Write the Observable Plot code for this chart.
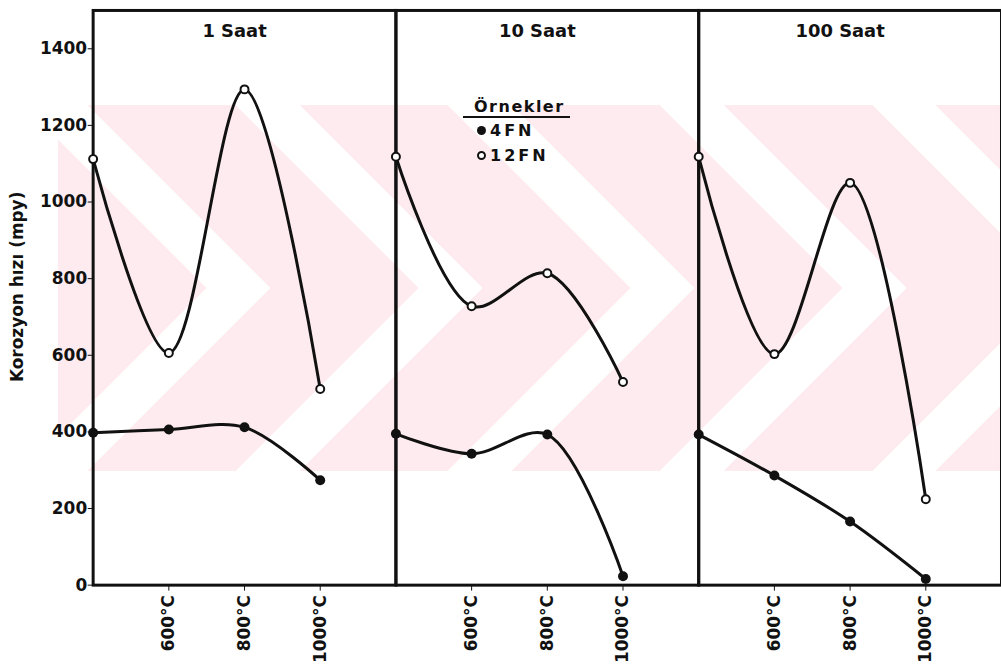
<!DOCTYPE html>
<html>
<head>
<meta charset="utf-8">
<script src="https://cdn.jsdelivr.net/npm/d3@7"></script>
<script src="https://cdn.jsdelivr.net/npm/@observablehq/plot@0.6"></script>
<style>
  html, body { margin: 0; padding: 0; background: #fff; overflow: hidden; }
  #wrap { position: relative; width: 1001px; height: 664px; overflow: hidden; }
  .wm { position: absolute; left: 58px; width: 943px; height: 183px; z-index: 0;
    background: repeating-linear-gradient(45deg, #fdebef 0 105px, #fff 105px 150px); }
  #wmTop { top: 105px; }
  #wmBot { top: 288px; transform: scaleY(-1); }
  #chart { position: absolute; left: 0; top: 0; z-index: 1; }
  #chart svg g[aria-label="y-axis tick label"] text { font-size: 17px !important; font-weight: bold; }
  #chart svg g[aria-label="x-axis tick label"] text { font-size: 17px !important; font-weight: bold; }
  #legend { position: absolute; left: 463px; top: 97px; z-index: 2; font-family: "DejaVu Sans", sans-serif;
    font-weight: bold; font-size: 16px; color: #111; line-height: 25px; }
  #legend .ttl { border-bottom: 2.5px solid #111; padding: 0 5px 0 11px; line-height: 19px; letter-spacing: 1.5px; }
  #legend .row { padding-left: 14px; letter-spacing: 3px; }
  .dot { display: inline-block; width: 9px; height: 9px; border-radius: 50%; margin-right: 4px; vertical-align: 1px; box-sizing: border-box; }
  .f { background: #111; }
  .o { border: 2px solid #111; background: #fff; }
</style>
</head>
<body>
<div id="wrap">
  <div class="wm" id="wmTop"></div>
  <div class="wm" id="wmBot"></div>
  <div id="chart"></div>
  <div id="legend">
    <div class="ttl">Örnekler</div>
    <div class="row"><span class="dot f"></span>4FN</div>
    <div class="row"><span class="dot o"></span>12FN</div>
  </div>
</div>
<script>
// Panels (exposure time)
const panels = ["1 Saat", "10 Saat", "100 Saat"];
// Temperatures (°C); the first point is the initial state at the left edge
const temps = [400, 600, 800, 1000];
const tickTemps = [600, 800, 1000];
const yTicks = [0, 200, 400, 600, 800, 1000, 1200, 1400];
const yLabel = "Korozyon hızı (mpy)";

// Corrosion rate (mpy), sample 4FN
const fn4_1h = [398, 406, 412, 274];
const fn4_10h = [395, 343, 393, 23];
const fn4_100h = [393, 286, 166, 16];
// Corrosion rate (mpy), sample 12FN
const fn12_1h = [1112, 606, 1294, 512];
const fn12_10h = [1118, 728, 814, 530];
const fn12_100h = [1118, 603, 1050, 224];

const series4 = [fn4_1h, fn4_10h, fn4_100h];
const series12 = [fn12_1h, fn12_10h, fn12_100h];

const rows = [];
panels.forEach((p, i) => {
  temps.forEach((t, j) => {
    rows.push({panel: p, sample: "4FN", temp: t, rate: series4[i][j]});
  });
  temps.forEach((t, j) => {
    rows.push({panel: p, sample: "12FN", temp: t, rate: series12[i][j]});
  });
});
const d4 = rows.filter(d => d.sample === "4FN");
const d12 = rows.filter(d => d.sample === "12FN");
const titles = panels.map(p => ({panel: p, label: p}));

const font = "'DejaVu Sans', sans-serif";

const chart = Plot.plot({
  width: 1005,
  height: 664,
  marginLeft: 93,
  marginRight: 0,
  marginTop: 10,
  marginBottom: 77,
  style: {background: "transparent", fontFamily: font, fontWeight: "bold", fontSize: "16px", color: "#111", overflow: "visible"},
  fx: {domain: panels, padding: 0, axis: null},
  x: {domain: [400, 1200], ticks: tickTemps, tickFormat: d => d + "°C", tickRotate: -90, tickSize: 6, tickPadding: 4, label: null},
  y: {domain: [0, 1500], ticks: yTicks, tickFormat: d => String(d), tickSize: 5, tickPadding: 1, label: null},
  marks: [
    Plot.frame({stroke: "#111", strokeWidth: 3}),
    Plot.line(d12, {fx: "panel", x: "temp", y: "rate", curve: "catmull-rom", stroke: "#111", strokeWidth: 3}),
    Plot.line(d4, {fx: "panel", x: "temp", y: "rate", curve: "catmull-rom", stroke: "#111", strokeWidth: 3}),
    Plot.dot(d4, {fx: "panel", x: "temp", y: "rate", r: 5, fill: "#111"}),
    Plot.dot(d12, {fx: "panel", x: "temp", y: "rate", r: 4, fill: "#fff", stroke: "#111", strokeWidth: 2}),
    Plot.text(titles, {fx: "panel", text: "label", frameAnchor: "top", dy: 14, dx: -10, fontSize: 18, fontWeight: "bold", fill: "#111"}),
    Plot.text([{panel: panels[0], label: yLabel}], {fx: "panel", text: "label", frameAnchor: "left", textAnchor: "middle", dx: -76, dy: -11, rotate: -90, fontSize: 17, fontWeight: "bold", fill: "#111"})
  ]
});
document.getElementById("chart").appendChild(chart);
</script>
</body>
</html>
